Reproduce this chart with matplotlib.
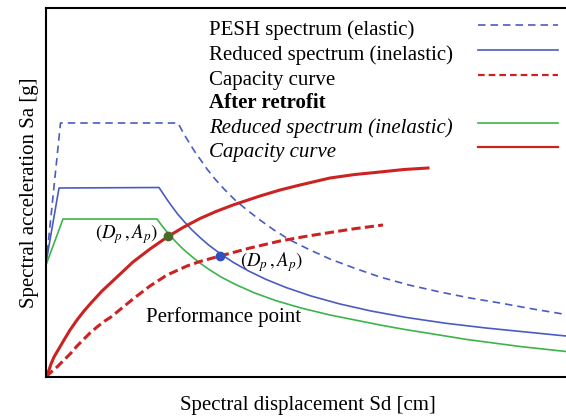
import matplotlib
matplotlib.use("Agg")
import matplotlib.pyplot as plt
from matplotlib.lines import Line2D

plt.rcParams['font.family'] = ['Liberation Serif', 'DejaVu Serif']
plt.rcParams['mathtext.fontset'] = 'stix'

# ---- data (Sd in cm, Sa in arbitrary g units) ----
elastic_sd = [0, 1.45, 13.2, 13.6, 14.0, 14.4, 14.9, 15.4, 16.1, 16.9, 17.8, 18.9, 20.1, 21.4,
              22.8, 24.4, 26.3, 28.4, 30.8, 33.4, 36.3, 39.4, 42.4, 45.4, 48.7, 52.0]
elastic_sa = [1.12, 2.54, 2.54, 2.465, 2.395, 2.33, 2.25, 2.18, 2.08, 1.98, 1.88, 1.77, 1.67, 1.57,
              1.47, 1.37, 1.275, 1.18, 1.09, 1.00, 0.92, 0.85, 0.79, 0.74, 0.68, 0.625]

reduced_sd = [0, 1.3, 11.3, 11.7, 12.1, 12.6, 13.2, 13.9, 14.6, 15.4, 16.3, 17.4, 18.7, 20.2,
              22.0, 24.0, 26.5, 29.4, 32.5, 36.0, 40.0, 44.0, 48.0, 52.0]
reduced_sa = [1.14, 1.89, 1.895, 1.835, 1.775, 1.705, 1.625, 1.545, 1.47, 1.395, 1.317, 1.235, 1.148, 1.063,
              0.976, 0.895, 0.81, 0.73, 0.66, 0.596, 0.537, 0.49, 0.45, 0.41]

retro_reduced_sd = [0, 1.7, 11.1, 11.5, 11.9, 12.4, 13.0, 13.7, 14.4, 15.3, 16.3, 17.5, 19.0, 20.8,
                    23.0, 25.5, 28.4, 30.9, 33.4, 35.9, 38.4, 42.1, 47.4, 52.0]
retro_reduced_sa = [1.12, 1.58, 1.58, 1.525, 1.474, 1.415, 1.35, 1.28, 1.22, 1.146, 1.076, 1.00, 0.923, 0.843,
                    0.763, 0.69, 0.62, 0.57, 0.52, 0.475, 0.435, 0.375, 0.305, 0.255]

capacity_sd = [0, 0.3, 1.1, 1.8, 2.5, 3.1, 3.8, 4.4, 5.1, 5.8, 6.5, 7.6, 8.7, 10.4, 12.1, 14.1, 15.4,
               17.4, 20.4, 23.4, 25.9, 28.4, 31.0, 33.7]
capacity_sa = [0, 0.03, 0.10, 0.17, 0.24, 0.31, 0.38, 0.44, 0.50, 0.555, 0.60, 0.69, 0.78, 0.91, 1.02,
               1.11, 1.155, 1.21, 1.29, 1.36, 1.405, 1.445, 1.485, 1.52]

retro_capacity_sd = [0, 0.3, 0.5, 0.8, 1.3, 1.8, 2.4, 3.1, 3.8, 4.5, 5.6, 7.1, 8.7, 10.4, 12.2, 13.7,
                     15.4, 17.0, 18.7, 21.4, 23.4, 25.4, 28.4, 30.9, 33.4, 35.8, 38.2]
retro_capacity_sa = [0, 0.07, 0.13, 0.20, 0.285, 0.37, 0.47, 0.57, 0.66, 0.74, 0.86, 1.00, 1.15, 1.28, 1.405, 1.495,
                     1.585, 1.655, 1.72, 1.81, 1.87, 1.92, 1.99, 2.025, 2.05, 2.075, 2.09]

pp_before = (17.4, 1.21)
pp_after = (12.2, 1.41)

legend_labels = ["PESH spectrum (elastic)", "Reduced spectrum (inelastic)", "Capacity curve",
                 "After retrofit", "Reduced spectrum (inelastic)", "Capacity curve"]

BLUE = '#4a5cc0'
RED = '#cc2222'
GREEN = '#3cb44b'

W, H = 566, 416
fig = plt.figure(figsize=(W / 100, H / 100), dpi=100)
ax = fig.add_axes([46 / W, (H - 377) / H, 523 / W, (377 - 8) / H])
ax.set_xlim(0, 52.3)
ax.set_ylim(0, 3.69)

ax.plot(elastic_sd, elastic_sa, color=BLUE, lw=1.2, dashes=(4.5, 3))
ax.plot(reduced_sd, reduced_sa, color=BLUE, lw=1.2)
ax.plot(retro_reduced_sd, retro_reduced_sa, color=GREEN, lw=1.2)
ax.plot(capacity_sd, capacity_sa, color=RED, lw=2.2, dashes=(3, 1.4))
ax.plot(retro_capacity_sd, retro_capacity_sa, color=RED, lw=2.2)

ax.plot([pp_before[0]], [pp_before[1]], 'o', color='#3050c0', ms=6, zorder=5)
ax.plot([pp_after[0]], [pp_after[1]], 'o', color='#4a6a2a', ms=6, zorder=5)

ax.text(11.2, 1.43, r'$(D_p\,,A_p)$', ha='right', va='center', fontsize=13.5)
ax.text(19.4, 1.15, r'$(D_p\,,A_p)$', ha='left', va='center', fontsize=13.5)
ax.text(17.8, 0.60, 'Performance point', ha='center', va='center', fontsize=15)

ax.set_xticks([])
ax.set_yticks([])
for s in ['left', 'bottom', 'top']:
    ax.spines[s].set_linewidth(1.5)
ax.spines['right'].set_visible(False)

ax.set_xlabel('Spectral displacement Sd [cm]', fontsize=15, labelpad=14)
ax.set_ylabel('Spectral acceleration Sa [g]', fontsize=15, labelpad=5)

# ---- legend drawn manually ----
baselines = [35, 60, 85, 108, 133, 157]
styles = [
    dict(color=BLUE, lw=1.2, dashes=(4.5, 3)),
    dict(color=BLUE, lw=1.2),
    dict(color=RED, lw=1.6, dashes=(3, 1.8)),
    None,
    dict(color=GREEN, lw=1.2),
    dict(color=RED, lw=1.6),
]
for i, (lab, b, st) in enumerate(zip(legend_labels, baselines, styles)):
    kw = {}
    if i == 3:
        kw['fontweight'] = 'bold'
    if i >= 4:
        kw['fontstyle'] = 'italic'
    fig.text(209 / W, 1 - b / H, lab, ha='left', va='baseline', fontsize=15, **kw)
    if st is not None:
        yl = 1 - (b - 10) / H
        fig.add_artist(Line2D([478 / W, 558 / W], [yl, yl], transform=fig.transFigure, **st))

fig.savefig('out.png', dpi=100)
